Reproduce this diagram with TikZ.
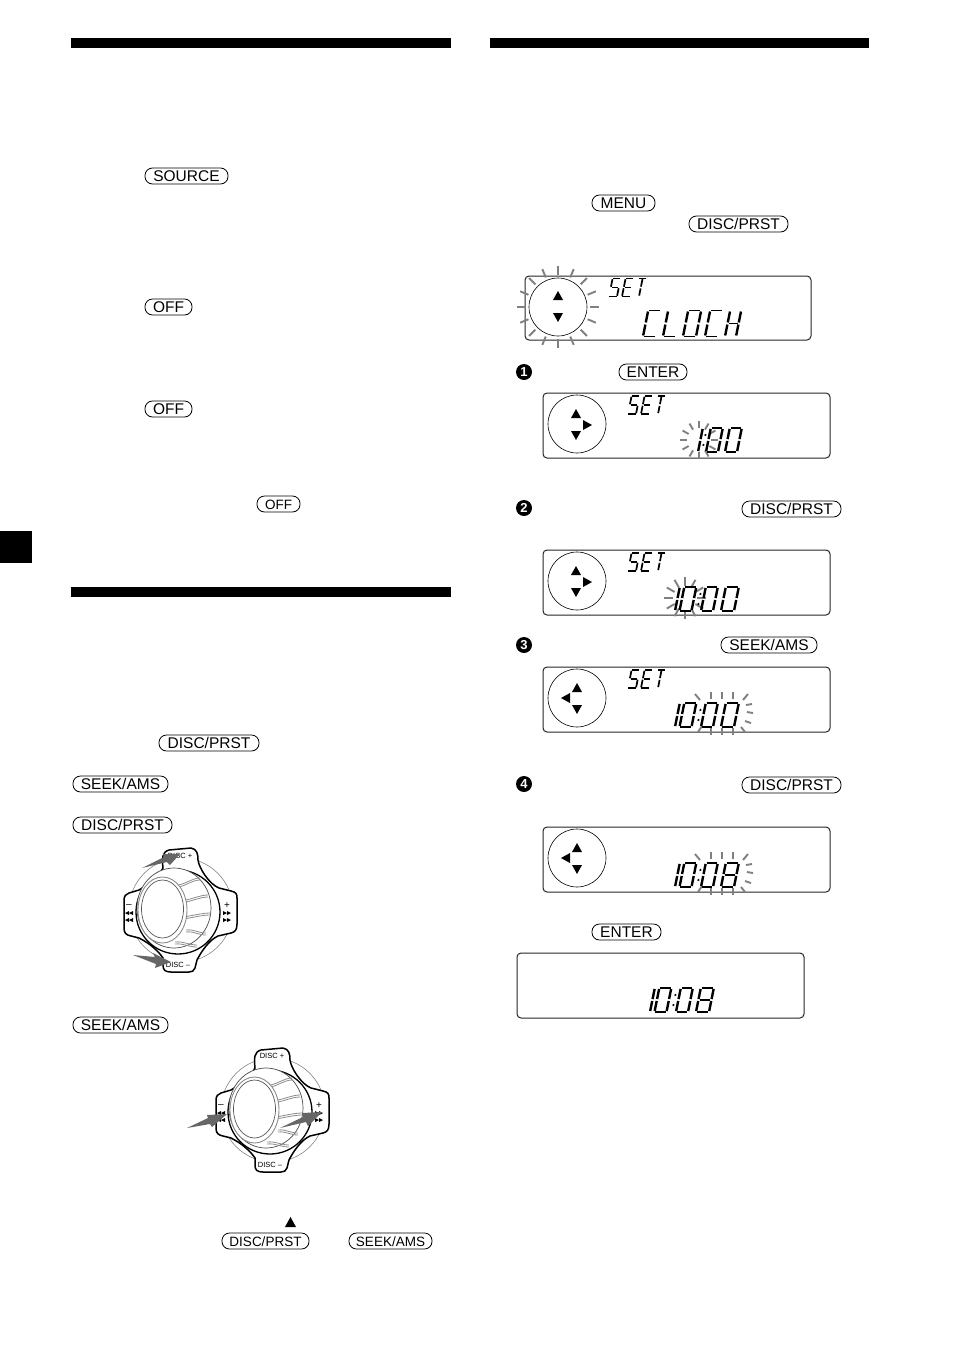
\documentclass[tikz,border=0pt]{standalone}
\usepackage{fontspec}
\setmainfont{Liberation Sans}
\usetikzlibrary{calc}
\def\lcdvw{2.4}
\tikzset{
  bar/.style={fill=black,draw=none},
  pillbox/.style={draw=black,line width=.8pt,rounded corners=7.5pt,inner sep=0pt,minimum height=16pt,text height=10.4pt,text depth=0pt,align=center},
  lcdbox/.style={draw=black!85,line width=1pt,rounded corners=4pt,inner sep=0pt,fill=none},
  lcddial/.style={draw=black,line width=.6pt,circle,inner sep=0pt,minimum size=58pt},
  lcdh/.style={line width=1.3pt,black,line cap=butt},
  lcdv/.style={line width=\lcdvw pt,black,line cap=butt},
  ray/.style={draw=black!50,line width=1.9pt},
  bul/.style={circle,fill=black,text=white,inner sep=0pt,minimum size=16pt,font=\fontsize{13}{13}\selectfont\bfseries},
  presser/.style={fill=black!60,draw=none},
  knobline/.style={draw=black,line width=1.5pt,fill=white},
  knobthin/.style={draw=black!55,line width=.5pt},
  ribline/.style={draw=black!45,line width=.8pt},
}
\newcommand{\pillkey}[6][15.5]{%
  \pgfmathsetmacro{\pcx}{(#3+#4)/2}\pgfmathsetmacro{\pw}{#4-#3}%
  \node[pillbox,minimum width=\pw pt,font=\fontsize{#1}{#1}\selectfont] (#2) at (\pcx,#5) {#6};}
\newcommand{\lcdframe}[5]{%
  \pgfmathsetmacro{\pcx}{(#2+#3)/2}\pgfmathsetmacro{\pcy}{(#4+#5)/2}%
  \pgfmathsetmacro{\pw}{#3-#2}\pgfmathsetmacro{\ph}{#5-#4}%
  \node[lcdbox,minimum width=\pw pt,minimum height=\ph pt] (#1) at (\pcx,\pcy) {};}
\newcommand{\triup}[2]{\fill (#1-5,#2+4) -- (#1+5,#2+4) -- (#1,#2-5) -- cycle;}
\newcommand{\tridn}[2]{\fill (#1-5,#2-4) -- (#1+5,#2-4) -- (#1,#2+5) -- cycle;}
\newcommand{\trirt}[2]{\fill (#1-4,#2-5) -- (#1-4,#2+5) -- (#1+5,#2) -- cycle;}
\newcommand{\trilf}[2]{\fill (#1+4,#2-5) -- (#1+4,#2+5) -- (#1-5,#2) -- cycle;}
\def\lcdsega{\draw[lcdh] (.06,1)--(.94,1);}
\def\lcdsegb{\draw[lcdv] (1,.96)--(1,.54);}
\def\lcdsegc{\draw[lcdv] (1,.46)--(1,.04);}
\def\lcdsegd{\draw[lcdh] (.06,0)--(.94,0);}
\def\lcdsege{\draw[lcdv] (0,.04)--(0,.46);}
\def\lcdsegf{\draw[lcdv] (0,.54)--(0,.96);}
\def\lcdsegg{\draw[lcdh] (.1,.5)--(.9,.5);}
\def\lcdsegj{\draw[lcdv] (.5,.97)--(.5,.55);}
\def\lcdsegk{\draw[lcdv] (.5,.45)--(.5,.05);}
\newcommand{\glyph}[5]{%
  \begin{scope}[shift={(#1,#2)},xslant=.2,x=#3pt,y=#4pt]
  \foreach \s in {#5} {\csname lcdseg\s\endcsname}
  \end{scope}}
\newcommand{\setword}[2]{%
  \def\lcdvw{1.7}
  \glyph{#1}{#2}{8}{18}{a,f,g,c,d}
  \glyph{#1+13}{#2}{8}{18}{a,f,e,d,g}
  \glyph{#1+26}{#2}{8}{18}{a,k,j}
  \def\lcdvw{2.4}}
\newcommand{\colonat}[2]{\begin{scope}[shift={(#1,#2)},xslant=.2]
  \fill (0,-7) circle (1.2pt); \fill (0,-17) circle (1.2pt);\end{scope}}
\newcommand{\timeread}[3]{%
  \glyph{#1+2}{#2}{1}{24}{c,b}
  \glyph{#1+7.5}{#2}{12}{24}{a,b,c,d,e,f}
  \colonat{#1+25}{#2}
  \glyph{#1+29}{#2}{12}{24}{a,b,c,d,e,f}
  \glyph{#1+49}{#2}{13}{24}{#3}}
\newcommand{\burst}[6][0]{%
  \foreach \k in {1,...,#6} {
    \pgfmathsetmacro{\ang}{#1+360*\k/#6}
    \draw[ray] ($(#2,#3)+(\ang:#4)$) -- ($(#2,#3)+(\ang:#5)$);}}
\newcommand{\raysb}[1]{\foreach \a/\b/\c/\d in {#1} \draw[ray] (\a,\b)--(\c,\d);}
\newcommand{\knob}[2]{%
  \begin{scope}[shift={(#1,#2)}]
  \draw[knobthin] (0,0) circle (52);
  \draw[knobline] (-18,-42) .. controls (-19,-52) and (-19,-58) .. (-12,-60) -- (10,-62)
    .. controls (16,-61) and (17,-56) .. (17,-50)
    .. controls (18,-42) and (28,-26) .. (38,-22) -- (50,-19)
    .. controls (55,-18) and (56,-16) .. (56,-12) -- (56,14)
    .. controls (56,20) and (54,22) .. (50,23) -- (37,26)
    .. controls (28,30) and (20,42) .. (16,50) -- (14,58)
    .. controls (13,61) and (11,62) .. (8,62) -- (-10,62)
    .. controls (-16,62) and (-18,60) .. (-18,55) -- (-18,48)
    .. controls (-22,42) and (-30,34) .. (-42,28) -- (-50,26)
    .. controls (-55,25) and (-57,23) .. (-57,18) -- (-57,-10)
    .. controls (-57,-14) and (-55,-16) .. (-52,-17) -- (-42,-20)
    .. controls (-32,-26) and (-22,-34) .. (-18,-42) -- cycle;
  \draw[draw=black,line width=1.3pt,fill=white] (-3,2) circle (42);
  \draw[draw=black!70,line width=.7pt,fill=white] (-7,-2) ellipse (37 and 40);
  \foreach \ax/\ay/\bx/\by in {-3/-25/19/-32,4/-10/27/-15,2/7/29/3,5/20/25/23,-6/32/16/35}{
    \draw[ribline] (\ax,\ay) .. controls (\ax+8,\ay-1) and (\bx-8,\by) .. (\bx,\by);
    \draw[ribline] (\ax,\ay+2) .. controls (\ax+8,\ay+1) and (\bx-8,\by+2) .. (\bx,\by+2);}
  \draw[draw=black!45,line width=.9pt,fill=white] (-18.5,0) ellipse (24.5 and 33);
  \draw[draw=black!65,line width=.7pt,fill=white] (-18.5,-1) ellipse (21 and 29);
  \node[font=\fontsize{7.5}{7.5}\selectfont,inner sep=0pt] (n#1top) at (-1,-54) {DISC +};
  \node[font=\fontsize{7.5}{7.5}\selectfont,inner sep=0pt] (n#1bot) at (-3,55) {DISC –};
  \node[font=\fontsize{10}{10}\selectfont,inner sep=0pt] (n#1pl) at (46,-4) {+};
  \node[font=\fontsize{10}{10}\selectfont,inner sep=0pt] (n#1mi) at (-52,-4) {–};
  \foreach \yy in {3,10}{
    \fill (42,\yy-2) -- (42,\yy+2) -- (46,\yy) -- cycle;
    \fill (46,\yy-2) -- (46,\yy+2) -- (50,\yy) -- cycle;
    \fill (-48,\yy-2) -- (-48,\yy+2) -- (-52,\yy) -- cycle;
    \fill (-52,\yy-2) -- (-52,\yy+2) -- (-56,\yy) -- cycle;}
  \end{scope}}
\begin{document}
\begin{tikzpicture}[x=1pt,y=-1pt]
\fill[white] (0,0) rectangle (954,1352);
\useasboundingbox (0,0) rectangle (954,1352);
% heading bars and tab
\fill[bar] (71,38) rectangle (451,48);
\fill[bar] (490,38) rectangle (869,48);
\fill[bar] (71,587) rectangle (451,597);
\fill[bar] (0,531) rectangle (32,563);
% keys left column
\pillkey{k1}{145}{228}{176}{SOURCE}
\pillkey{k2}{145}{192}{307}{OFF}
\pillkey{k3}{145}{192}{409}{OFF}
\pillkey[13.5]{k4}{257}{300}{504}{OFF}
\pillkey{k5}{159}{259}{743}{DISC/PRST}
\pillkey{k6}{73}{168}{784}{SEEK/AMS}
\pillkey{k7}{73}{172}{825}{DISC/PRST}
\pillkey{k8}{73}{168}{1025}{SEEK/AMS}
\pillkey[13.5]{k9}{222}{309}{1241}{DISC/PRST}
\pillkey[13.5]{k10}{349}{432}{1241}{SEEK/AMS}
\fill (285,1227) -- (296,1227) -- (290.5,1217) -- cycle;
% keys right column
\pillkey{k11}{592}{655}{203}{MENU}
\pillkey{k12}{689}{788}{224}{DISC/PRST}
\pillkey{k13}{619}{687}{372}{ENTER}
\pillkey{k14}{742}{841}{509}{DISC/PRST}
\pillkey{k15}{721}{817}{645}{SEEK/AMS}
\pillkey{k16}{742}{841}{785}{DISC/PRST}
\pillkey{k17}{592}{661}{932}{ENTER}
% bullets
\node[bul] (b1) at (524,372) {1};
\node[bul] (b2) at (524,508) {2};
\node[bul] (b3) at (524,645) {3};
\node[bul] (b4) at (524,784) {4};
% display A
\lcdframe{lcdA}{525}{811}{276}{340}
\burst{558}{307}{32}{41}{16}
\node[lcddial] (dA) at (558,307) {};
\triup{558}{296}\tridn{558}{317}
\setword{609}{296.5}
\glyph{643}{336.5}{13}{26}{a,f,e,d}
\glyph{663}{336.5}{13}{26}{f,e,d}
\glyph{683}{336.5}{13}{26}{a,b,c,d,e,f}
\glyph{705}{336.5}{13}{26}{a,f,e,d}
\glyph{725}{336.5}{11}{26}{f,e,g,b,c}
% display B
\lcdframe{lcdB}{543}{830}{393}{458}
\node[lcddial] (dB) at (577,424) {};
\triup{576}{414}\tridn{576}{435}\trirt{587}{425}
\setword{628}{414}
\burst{699}{440}{12}{19}{12}
\glyph{697}{452}{1}{24}{c,b}
\colonat{702}{452}
\glyph{706}{452}{12}{24}{a,b,c,d,e,f}
\glyph{725}{452}{12}{24}{a,b,c,d,e,f}
% display C
\lcdframe{lcdC}{543}{830}{550}{615}
\node[lcddial] (dC) at (577,581) {};
\triup{576}{571}\tridn{576}{592}\trirt{587}{582}
\setword{628}{571}
\burst{685}{598}{12}{21}{12}
\timeread{672}{611}{a,b,c,d,e,f}
% display D
\lcdframe{lcdD}{543}{830}{667}{732}
\node[lcddial] (dD) at (577,698) {};
\triup{577}{688}\tridn{577}{709}\trilf{566}{698}
\setword{628}{688}
\raysb{700/700/695/694,711/699/711/692,722/699/722/692,733/699/733/692,743/700/748/694,
  746/705/752/704,747/712/753/713,745/721/751/723,
  702/726/698/732,711/728/711/735,722/728/722/735,733/728/733/735,741/727/745/732}
\timeread{672}{727}{a,b,c,d,e,f}
% display E
\lcdframe{lcdE}{543}{830}{827}{892}
\node[lcddial] (dE) at (577,858) {};
\triup{577}{848}\tridn{577}{869}\trilf{566}{858}
\raysb{700/860/695/854,711/859/711/852,722/859/722/852,733/859/733/852,743/860/748/854,
  746/865/752/864,747/872/753/873,745/881/751/883,
  702/886/698/892,711/888/711/895,722/888/722/895,733/888/733/895,741/887/745/892}
\timeread{672}{887}{a,b,c,d,e,f,g}
% display F
\lcdframe{lcdF}{517}{804}{953}{1018}
\timeread{647}{1012}{a,b,c,d,e,f,g}
% knobs
\knob{181}{910}
\fill[presser] (142,868) -- (164,857) -- (163,854) -- (180,854) -- (170,865) -- (167,862) -- cycle;
\fill[presser] (133,955) -- (155,957) -- (153,953) -- (171,962) -- (155,968) -- (156,964) -- cycle;
\knob{273}{1110}
\fill[presser] (187,1128) -- (208,1118) -- (207,1115) -- (227,1114) -- (212,1127) -- (210,1124) -- cycle;
\fill[presser] (280,1128) -- (303,1117) -- (302,1113) -- (322,1112) -- (308,1126) -- (306,1122) -- cycle;
\end{tikzpicture}
\end{document}
